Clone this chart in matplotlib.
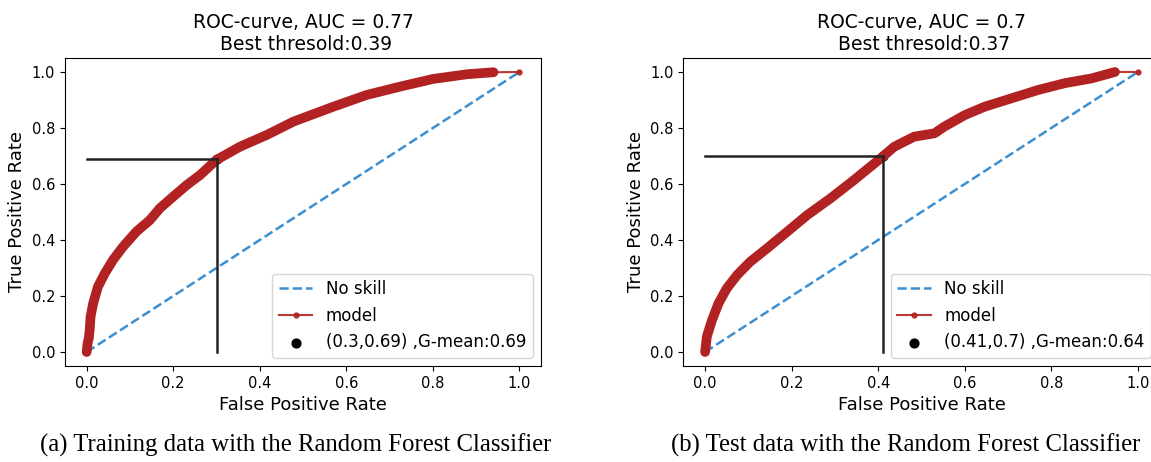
import numpy as np
import matplotlib.pyplot as plt

# ROC points, training set
fpr_train = [0.0, 0.002, 0.005, 0.007, 0.009, 0.015, 0.026, 0.042, 0.061, 0.084,
             0.115, 0.146, 0.169, 0.2, 0.231, 0.262, 0.30, 0.354, 0.416, 0.478,
             0.57, 0.647, 0.725, 0.80, 0.879, 0.94, 1.0]
tpr_train = [0.0, 0.03, 0.05, 0.08, 0.126, 0.174, 0.233, 0.281, 0.329, 0.376,
             0.43, 0.471, 0.513, 0.555, 0.596, 0.632, 0.686, 0.733, 0.775, 0.823,
             0.876, 0.918, 0.948, 0.975, 0.992, 0.999, 1.0]

# ROC points, test set
fpr_test = [0.0, 0.004, 0.016, 0.031, 0.05, 0.074, 0.104, 0.143, 0.19, 0.236,
            0.29, 0.344, 0.406, 0.437, 0.483, 0.53, 0.553, 0.60, 0.646, 0.708,
            0.77, 0.831, 0.893, 0.947, 1.0]
tpr_test = [0.0, 0.055, 0.114, 0.174, 0.227, 0.275, 0.322, 0.37, 0.43, 0.489,
            0.549, 0.614, 0.692, 0.733, 0.769, 0.781, 0.805, 0.846, 0.876, 0.906,
            0.936, 0.96, 0.977, 1.0, 1.0]

auc = [0.77, 0.7]
thresh = [0.39, 0.37]
best = [(0.3, 0.69), (0.41, 0.7)]
gmean = [0.69, 0.64]
captions = ["(a) Training data with the Random Forest Classifier",
            "(b) Test data with the Random Forest Classifier"]

red = '#b22222'
blue = '#3b8fd1'

fig = plt.figure(figsize=(11.51, 4.62), dpi=100)
ax1 = fig.add_axes([0.0565, 0.2078, 0.4136, 0.6667])
ax2 = fig.add_axes([0.5938, 0.2078, 0.4136, 0.6667])

data = [(fpr_train, tpr_train), (fpr_test, tpr_test)]
for i, ax in enumerate([ax1, ax2]):
    fpr, tpr = data[i]
    bx, by = best[i]
    ax.plot([0, 1], [0, 1], '--', color=blue, lw=1.8, label='No skill')
    # dense markers of the curve, drawn as one thick band
    ax.plot(fpr[:-1], tpr[:-1], color=red, lw=7, solid_capstyle='round',
            solid_joinstyle='round')
    ax.plot(fpr, tpr, color=red, lw=1.5, marker='.', ms=7, alpha=0.9, label='model')
    ax.scatter(bx, by, color='k', s=40,
               label='(%s,%s) ,G-mean:%s' % (bx, by, gmean[i]))
    ax.plot([0, bx], [by, by], color='#222222', lw=1.8)
    ax.plot([bx, bx], [0, by], color='#222222', lw=1.8)
    ax.set_xlim(-0.05, 1.05)
    ax.set_ylim(-0.05, 1.05)
    ax.set_xlabel('False Positive Rate', fontsize=13)
    ax.set_ylabel('True Positive Rate', fontsize=13)
    ax.tick_params(labelsize=10.5)
    ax.set_title('ROC-curve, AUC = %s\n Best thresold:%s' % (auc[i], thresh[i]),
                 fontsize=13.5)
    ax.legend(loc='lower right', fontsize=12)

fig.text(296 / 1151, 1 - 445 / 462, captions[0], ha='center', va='center',
         family='Liberation Serif', fontsize=17.8)
fig.text(906 / 1151, 1 - 445 / 462, captions[1], ha='center', va='center',
         family='Liberation Serif', fontsize=17.8)

plt.savefig('out.png', dpi=100)
